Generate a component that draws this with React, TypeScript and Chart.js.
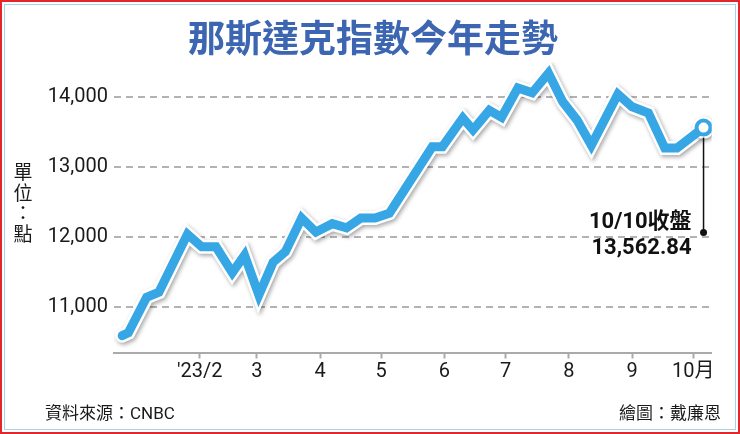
import { useEffect, useRef } from "react";
import { Chart, registerables } from "chart.js";
import type { Plugin } from "chart.js";

Chart.register(...registerables);

// day of 2023 (Jan 1 = 0) for each weekly point
const weekDays = [
  -7, -4, 5, 11, 25, 32, 39, 47, 53, 60, 67, 73, 81, 88, 96, 103, 110, 117, 124,
  145, 150, 160, 165, 173, 179, 187, 194, 202, 209, 216, 223, 236, 243, 251, 259,
  265, 278,
];

// Nasdaq closes (points)
const closes = [
  10590, 10630, 11140, 11210, 12040, 11860, 11860, 11490, 11740, 11170, 11640,
  11790, 12270, 12070, 12190, 12130, 12270, 12270, 12340, 13290, 13290, 13700,
  13530, 13810, 13710, 14130, 14060, 14340, 13930, 13670, 13310, 14040, 13860,
  13770, 13270, 13270, 13562.84,
];

const monthStarts = [31, 59, 90, 120, 151, 181, 212, 243, 273];
const monthLabels = ["'23/2", "3", "4", "5", "6", "7", "8", "9", "10月"];
const yTicks = [11000, 12000, 13000, 14000];
const lastDateLabel = "10/10收盤";

const BLUE = "#36a6e4";
const CJK = "'Noto Sans CJK TC'";

const outlineShadow: Plugin<"line"> = {
  id: "outlineShadow",
  beforeDatasetDraw(chart, args) {
    if (args.index !== 1) return;
    const { ctx } = chart;
    ctx.save();
    ctx.shadowColor = "rgba(0,0,0,0.35)";
    ctx.shadowBlur = 4;
    ctx.shadowOffsetX = 1.5;
    ctx.shadowOffsetY = 2;
  },
  afterDatasetDraw(chart, args) {
    if (args.index !== 1) return;
    chart.ctx.restore();
  },
};

const lastCallout: Plugin<"line"> = {
  id: "lastCallout",
  afterDatasetsDraw(chart) {
    const { ctx } = chart;
    const last = closes.length - 1;
    const px = chart.scales.x.getPixelForValue(weekDays[last]);
    const py = chart.scales.y.getPixelForValue(closes[last]);

    ctx.save();
    ctx.strokeStyle = "#111";
    ctx.lineWidth = 1.5;
    ctx.beginPath();
    ctx.moveTo(px, py + 10);
    ctx.lineTo(px, py + 105);
    ctx.stroke();
    ctx.fillStyle = "#111";
    ctx.beginPath();
    ctx.arc(px, py + 105, 3.5, 0, Math.PI * 2);
    ctx.fill();

    ctx.font = `bold 22px Roboto, ${CJK}`;
    ctx.textAlign = "right";
    ctx.textBaseline = "middle";
    ctx.fillText(lastDateLabel, px - 12, py + 95);
    ctx.fillText(
      closes[last].toLocaleString("en-US", { minimumFractionDigits: 2 }),
      px - 12,
      py + 121
    );
    ctx.restore();
  },
};

function NasdaqChart() {
  const chartRef = useRef<HTMLCanvasElement | null>(null);
  const chartInstance = useRef<Chart<"line"> | null>(null);

  useEffect(() => {
    if (!chartRef.current) return;
    const ctx = chartRef.current.getContext("2d");
    if (!ctx) return;

    if (chartInstance.current) {
      chartInstance.current.destroy();
    }

    const points = weekDays.map((d, i) => ({ x: d, y: closes[i] }));
    const last = closes.length - 1;

    chartInstance.current = new Chart(ctx, {
      type: "line",
      data: {
        datasets: [
          {
            data: points,
            order: 0,
            borderColor: BLUE,
            borderWidth: 9,
            borderJoinStyle: "miter",
            borderCapStyle: "round",
            tension: 0,
            pointRadius: (c) => (c.dataIndex === last ? 7 : 0),
            pointBorderWidth: 4,
            pointBorderColor: BLUE,
            pointBackgroundColor: "#fff",
          },
          {
            data: points,
            order: 1,
            borderColor: "#fff",
            borderWidth: 14,
            borderJoinStyle: "miter",
            borderCapStyle: "round",
            tension: 0,
            pointRadius: (c) => (c.dataIndex === last ? 11 : 0),
            pointBorderWidth: 0,
            pointBackgroundColor: "#fff",
          },
        ],
      },
      options: {
        responsive: false,
        animation: false,
        events: [],
        layout: {
          padding: { top: 62, right: 28.3, bottom: 41.5, left: 0 },
        },
        scales: {
          x: {
            type: "linear",
            min: -11,
            max: 282,
            afterFit: (scale) => {
              scale.height = 40;
            },
            afterBuildTicks: (scale) => {
              scale.ticks = monthStarts.map((v) => ({ value: v }));
            },
            grid: {
              display: true,
              drawOnChartArea: false,
              drawTicks: true,
              tickLength: 6,
              tickColor: "#aaa",
              tickWidth: 2,
            },
            border: { display: true, color: "#aaa", width: 2 },
            ticks: {
              color: "#1a1a1a",
              font: { family: `Roboto, ${CJK}`, size: 20 },
              padding: 1,
              maxRotation: 0,
              autoSkip: false,
              callback: (value) =>
                monthLabels[monthStarts.indexOf(Number(value))] ?? "",
            },
          },
          y: {
            min: 10350,
            max: 14500,
            afterFit: (scale) => {
              scale.width = 114;
            },
            afterBuildTicks: (scale) => {
              scale.ticks = yTicks.map((v) => ({ value: v }));
            },
            grid: {
              color: "#b3b3b3",
              lineWidth: 2,
              drawTicks: false,
            },
            border: { display: false, dash: [7, 5] },
            ticks: {
              color: "#1a1a1a",
              font: { family: "Roboto", size: 20 },
              padding: 6,
              callback: (value) => Number(value).toLocaleString("en-US"),
            },
          },
        },
        plugins: {
          legend: { display: false },
          tooltip: { enabled: false },
        },
      },
      plugins: [outlineShadow, lastCallout],
    });

    return () => {
      if (chartInstance.current) {
        chartInstance.current.destroy();
        chartInstance.current = null;
      }
    };
  }, []);

  return (
    <canvas
      ref={chartRef}
      width={740}
      height={434}
      style={{ position: "absolute", left: 0, top: 0 }}
    />
  );
}

export default function App() {
  const text = { position: "absolute" as const, color: "#1a1a1a", fontFamily: `Roboto, ${CJK}` };
  return (
    <div
      style={{
        position: "fixed",
        left: 0,
        top: 0,
        width: 740,
        height: 434,
        background: "#fff",
        overflow: "hidden",
      }}
    >
      <NasdaqChart />
      <div
        style={{
          position: "absolute",
          left: 0,
          top: 0,
          width: 740,
          height: 434,
          border: "2px solid #e3262b",
          boxSizing: "border-box",
        }}
      />
      <div
        style={{
          position: "absolute",
          left: 4,
          top: 4,
          width: 732,
          height: 426,
          border: "1px solid #a6d3ea",
          boxSizing: "border-box",
        }}
      />
      <div
        style={{
          position: "absolute",
          left: 0,
          width: 746,
          top: 18,
          textAlign: "center",
          fontFamily: CJK,
          fontWeight: "bold",
          fontSize: 37,
          lineHeight: "37px",
          color: "#3c66b1",
        }}
      >
        那斯達克指數今年走勢
      </div>
      <div
        style={{
          ...text,
          left: 13,
          top: 161,
          width: 20,
          fontFamily: CJK,
          fontSize: 19,
          lineHeight: "20.5px",
          textAlign: "center",
        }}
      >
        單<br />位<br />：<br />點
      </div>
      <div style={{ ...text, left: 45, top: 402, fontSize: 17, lineHeight: "22px" }}>
        資料來源：CNBC
      </div>
      <div
        style={{
          ...text,
          right: 19,
          top: 402,
          fontSize: 17,
          lineHeight: "22px",
          textAlign: "right",
        }}
      >
        繪圖：戴廉恩
      </div>
    </div>
  );
}
